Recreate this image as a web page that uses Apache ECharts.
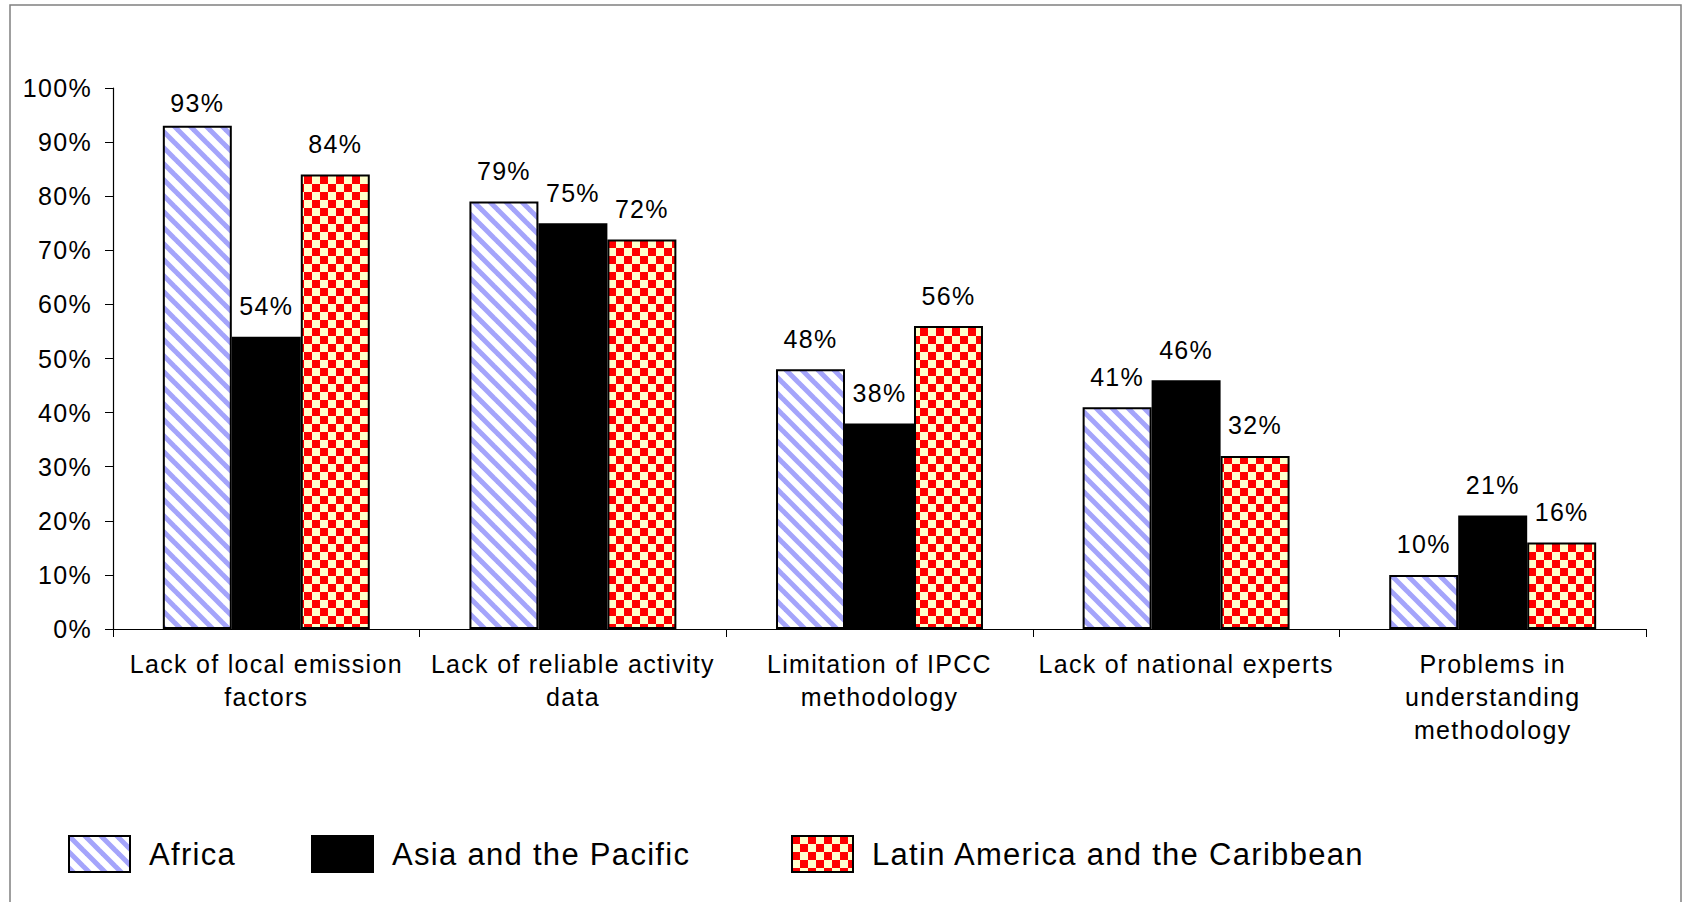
<!DOCTYPE html>
<html>
<head>
<meta charset="utf-8">
<script src="https://cdn.jsdelivr.net/npm/echarts@6/dist/echarts.min.js"></script>
<style>
html,body{margin:0;padding:0;background:#fff;}
#chart{width:1683px;height:902px;}
#chart text{letter-spacing:1.3px !important;}
</style>
</head>
<body>
<div id="chart"></div>
<script>
const categories = ['Lack of local emission\nfactors', 'Lack of reliable activity\ndata', 'Limitation of IPCC\nmethodology', 'Lack of national experts', 'Problems in\nunderstanding\nmethodology'];
const seriesNames = ['Africa', 'Asia and the Pacific', 'Latin America and the Caribbean'];
const africa = [93, 79, 48, 41, 10];
const asia = [54, 75, 38, 46, 21];
const latin = [84, 72, 56, 32, 16];
const yMin = 0, yMax = 100, yStep = 10;

function stripeTile() {
  const s = 16;
  const c = document.createElement('canvas');
  c.width = s; c.height = s;
  const g = c.getContext('2d');
  g.fillStyle = '#ffffff'; g.fillRect(0, 0, s, s);
  g.strokeStyle = '#a4a4fb'; g.lineWidth = 5;
  for (let k = -1; k <= 1; k++) {
    g.beginPath(); g.moveTo(-3, k * s - 3); g.lineTo(s + 3, k * s + s + 3); g.stroke();
  }
  return c;
}
function checkTile() {
  const s = 8;
  const c = document.createElement('canvas');
  c.width = 2 * s; c.height = 2 * s;
  const g = c.getContext('2d');
  g.fillStyle = '#ffffcc'; g.fillRect(0, 0, 2 * s, 2 * s);
  g.fillStyle = '#ff0000'; g.fillRect(0, 0, s, s); g.fillRect(s, s, s, s);
  return c;
}
const stripe = { image: stripeTile(), repeat: 'repeat', imageWidth: 16, imageHeight: 16 };
const check = { image: checkTile(), repeat: 'repeat', imageWidth: 16, imageHeight: 16 };

const font = "'Liberation Sans', Arial, sans-serif";
const chart = echarts.init(document.getElementById('chart'), null, { renderer: 'svg' });

function legendAt(name, left) {
  return {
    data: [name], left: left, top: 835, padding: 0, orient: 'horizontal',
    itemWidth: 61, itemHeight: 36, selectedMode: false, icon: 'rect',
    itemStyle: { borderColor: '#000', borderWidth: 2 },
    textStyle: { fontFamily: font, fontSize: 31, color: '#000', padding: [0, 0, 0, 14] }
  };
}
// Excel keeps labels inside the plot: near the top they sit closer to the bar
function labelled(data) {
  return data.map(v => ({ value: v, label: { distance: v > 90 ? 10 : 18 } }));
}
function barSeries(name, data, fill) {
  return {
    name: name, type: 'bar', data: labelled(data), barGap: 0, barCategoryGap: '32.5%',
    itemStyle: { color: fill, borderColor: '#000', borderWidth: 2 },
    label: { show: true, position: 'top', formatter: '{c}%', fontFamily: font, fontSize: 25, color: '#000' },
    emphasis: { disabled: true }, animation: false
  };
}

chart.setOption({
  backgroundColor: '#fff',
  animation: false,
  graphic: [{
    type: 'rect', shape: { x: 10, y: 5, width: 1671, height: 905 },
    style: { fill: 'none', stroke: '#808080', lineWidth: 1.5 }, silent: true, z: -10
  }],
  legend: [legendAt(seriesNames[0], 68), legendAt(seriesNames[1], 311), legendAt(seriesNames[2], 791)],
  grid: { left: 113, right: 37, top: 88, bottom: 273, containLabel: false },
  xAxis: {
    type: 'category', data: categories,
    axisLine: { lineStyle: { color: '#000', width: 1.2 } },
    axisTick: { show: true, inside: false, length: 8, alignWithLabel: false, lineStyle: { color: '#000' } },
    axisLabel: { interval: 0, margin: 18, fontFamily: font, fontSize: 25, color: '#000', lineHeight: 33 }
  },
  yAxis: {
    type: 'value', min: yMin, max: yMax, interval: yStep,
    axisLine: { show: true, lineStyle: { color: '#000', width: 1.2 } },
    axisTick: { show: true, length: 8, lineStyle: { color: '#000' } },
    splitLine: { show: false },
    axisLabel: { formatter: '{value}%', margin: 21, fontFamily: font, fontSize: 25, color: '#000' }
  },
  series: [
    barSeries(seriesNames[0], africa, stripe),
    barSeries(seriesNames[1], asia, '#000000'),
    barSeries(seriesNames[2], latin, check)
  ]
});
</script>
</body>
</html>
